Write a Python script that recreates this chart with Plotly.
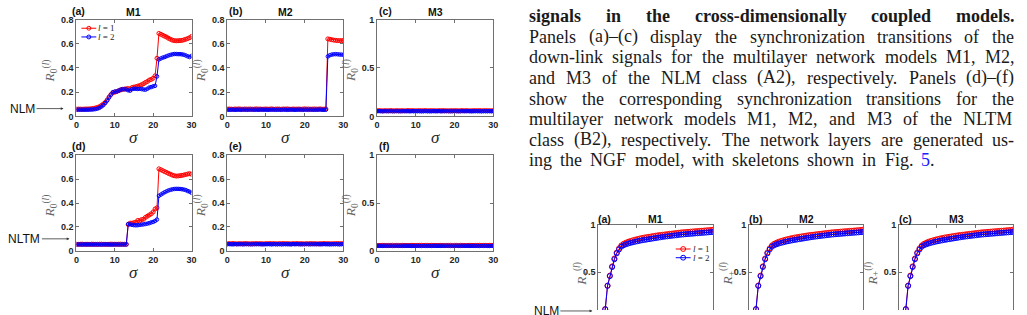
import plotly.graph_objects as go

W, H = 1027, 315

# ---------------- data: left figure, sigma = 0, 0.5, ..., 30 ----------------
a_l1 = [0.060, 0.060, 0.060, 0.059, 0.060, 0.061, 0.061, 0.062, 0.064, 0.066,
        0.070, 0.074, 0.080, 0.090, 0.102, 0.115, 0.135, 0.160, 0.180, 0.195,
        0.200, 0.205, 0.212, 0.218, 0.222, 0.225, 0.228, 0.230, 0.226, 0.238,
        0.242, 0.245, 0.250, 0.255, 0.262, 0.270, 0.280, 0.288, 0.300, 0.305,
        0.315, 0.335, 0.480, 0.685, 0.678, 0.670, 0.662, 0.655, 0.645, 0.637,
        0.630, 0.626, 0.624, 0.625, 0.626, 0.628, 0.632, 0.637, 0.643, 0.650,
        0.660]
a_l2 = [0.055, 0.055, 0.055, 0.055, 0.055, 0.055, 0.055, 0.056, 0.056, 0.058,
        0.060, 0.064, 0.070, 0.080, 0.092, 0.110, 0.130, 0.155, 0.180, 0.200,
        0.205, 0.205, 0.212, 0.220, 0.225, 0.225, 0.222, 0.215, 0.212, 0.225,
        0.228, 0.228, 0.226, 0.228, 0.225, 0.222, 0.220, 0.228, 0.238, 0.242,
        0.248, 0.252, 0.330, 0.470, 0.478, 0.485, 0.490, 0.497, 0.503, 0.508,
        0.512, 0.515, 0.515, 0.514, 0.514, 0.512, 0.509, 0.503, 0.496, 0.490,
        0.500]
b_l1 = [0.060, 0.061, 0.060, 0.059, 0.061, 0.060, 0.062, 0.060, 0.059, 0.061,
        0.060, 0.060, 0.061, 0.059, 0.060, 0.062, 0.060, 0.061, 0.059, 0.060,
        0.061, 0.060, 0.060, 0.062, 0.059, 0.060, 0.061, 0.060, 0.059, 0.061,
        0.060, 0.062, 0.060, 0.059, 0.061, 0.060, 0.060, 0.061, 0.059, 0.060,
        0.062, 0.060, 0.061, 0.059, 0.060, 0.061, 0.060, 0.060, 0.062, 0.059,
        0.060, 0.061, 0.640, 0.637, 0.633, 0.630, 0.628, 0.626, 0.626, 0.625,
        0.627]
b_l2 = [0.055, 0.054, 0.055, 0.056, 0.054, 0.055, 0.055, 0.054, 0.056, 0.055,
        0.054, 0.055, 0.055, 0.056, 0.054, 0.055, 0.054, 0.055, 0.056, 0.055,
        0.055, 0.054, 0.055, 0.055, 0.056, 0.054, 0.055, 0.055, 0.054, 0.056,
        0.055, 0.054, 0.055, 0.056, 0.055, 0.054, 0.055, 0.055, 0.056, 0.054,
        0.055, 0.055, 0.054, 0.056, 0.055, 0.054, 0.055, 0.055, 0.056, 0.055,
        0.054, 0.055, 0.495, 0.505, 0.510, 0.513, 0.514, 0.513, 0.511, 0.510,
        0.509]
c_l1 = [0.058, 0.059, 0.058, 0.057, 0.059, 0.058, 0.058, 0.060, 0.058, 0.057,
        0.059, 0.058, 0.058, 0.059, 0.057, 0.058, 0.060, 0.058, 0.059, 0.058,
        0.057, 0.058, 0.059, 0.058, 0.058, 0.060, 0.057, 0.058, 0.059, 0.058,
        0.058, 0.057, 0.059, 0.058, 0.060, 0.058, 0.058, 0.057, 0.059, 0.058,
        0.058, 0.059, 0.057, 0.058, 0.060, 0.058, 0.059, 0.058, 0.057, 0.058,
        0.059, 0.058, 0.058, 0.060, 0.057, 0.058, 0.059, 0.058, 0.058, 0.057,
        0.059]
c_l2 = [0.053, 0.054, 0.053, 0.052, 0.054, 0.053, 0.053, 0.054, 0.052, 0.053,
        0.054, 0.053, 0.052, 0.053, 0.054, 0.053, 0.053, 0.052, 0.054, 0.053,
        0.053, 0.054, 0.053, 0.052, 0.053, 0.054, 0.053, 0.053, 0.052, 0.054,
        0.053, 0.053, 0.054, 0.052, 0.053, 0.053, 0.054, 0.053, 0.052, 0.053,
        0.054, 0.053, 0.053, 0.052, 0.054, 0.053, 0.053, 0.054, 0.053, 0.052,
        0.053, 0.054, 0.053, 0.053, 0.052, 0.054, 0.053, 0.053, 0.054, 0.053,
        0.053]
d_l1 = [0.056, 0.055, 0.056, 0.057, 0.055, 0.056, 0.056, 0.055, 0.057, 0.056,
        0.055, 0.056, 0.056, 0.057, 0.055, 0.056, 0.055, 0.056, 0.057, 0.056,
        0.056, 0.055, 0.056, 0.057, 0.055, 0.056, 0.056, 0.220, 0.232, 0.232,
        0.236, 0.240, 0.255, 0.250, 0.262, 0.265, 0.280, 0.290, 0.300, 0.310,
        0.325, 0.350, 0.360, 0.685, 0.678, 0.670, 0.662, 0.655, 0.647, 0.640,
        0.633, 0.628, 0.625, 0.626, 0.628, 0.631, 0.634, 0.638, 0.642, 0.645,
        0.640]
d_l2 = [0.054, 0.055, 0.054, 0.053, 0.055, 0.054, 0.054, 0.055, 0.053, 0.054,
        0.055, 0.054, 0.054, 0.053, 0.055, 0.054, 0.055, 0.054, 0.053, 0.054,
        0.054, 0.055, 0.054, 0.053, 0.055, 0.054, 0.054, 0.225, 0.222, 0.218,
        0.215, 0.214, 0.215, 0.218, 0.220, 0.222, 0.225, 0.228, 0.232, 0.238,
        0.242, 0.250, 0.262, 0.460, 0.470, 0.480, 0.490, 0.498, 0.505, 0.510,
        0.514, 0.517, 0.518, 0.518, 0.517, 0.515, 0.512, 0.508, 0.500, 0.494,
        0.485]
e_l1 = [0.060, 0.061, 0.060, 0.062, 0.060, 0.059, 0.061, 0.060, 0.060, 0.062,
        0.061, 0.060, 0.059, 0.061, 0.060, 0.062, 0.060, 0.061, 0.060, 0.059,
        0.061, 0.060, 0.062, 0.060, 0.061, 0.060, 0.059, 0.061, 0.060, 0.062,
        0.060, 0.061, 0.060, 0.059, 0.061, 0.060, 0.062, 0.060, 0.061, 0.060,
        0.059, 0.061, 0.060, 0.062, 0.060, 0.061, 0.060, 0.059, 0.061, 0.060,
        0.062, 0.060, 0.061, 0.060, 0.059, 0.061, 0.060, 0.062, 0.060, 0.061,
        0.060]
e_l2 = [0.056, 0.057, 0.056, 0.055, 0.057, 0.056, 0.056, 0.057, 0.055, 0.056,
        0.057, 0.056, 0.056, 0.055, 0.057, 0.056, 0.057, 0.056, 0.055, 0.056,
        0.056, 0.057, 0.056, 0.055, 0.057, 0.056, 0.056, 0.057, 0.055, 0.056,
        0.057, 0.056, 0.056, 0.055, 0.057, 0.056, 0.057, 0.056, 0.055, 0.056,
        0.056, 0.057, 0.056, 0.055, 0.057, 0.056, 0.056, 0.057, 0.055, 0.056,
        0.057, 0.056, 0.056, 0.055, 0.057, 0.056, 0.057, 0.056, 0.055, 0.056,
        0.057]
f_l1 = [0.058, 0.057, 0.058, 0.059, 0.058, 0.057, 0.058, 0.058, 0.059, 0.057,
        0.058, 0.058, 0.057, 0.059, 0.058, 0.058, 0.057, 0.058, 0.059, 0.058,
        0.057, 0.058, 0.058, 0.059, 0.057, 0.058, 0.058, 0.057, 0.059, 0.058,
        0.058, 0.057, 0.058, 0.059, 0.058, 0.057, 0.058, 0.058, 0.059, 0.057,
        0.058, 0.058, 0.057, 0.059, 0.058, 0.058, 0.057, 0.058, 0.059, 0.058,
        0.057, 0.058, 0.058, 0.059, 0.057, 0.058, 0.058, 0.057, 0.059, 0.058,
        0.058]
f_l2 = [0.053, 0.054, 0.053, 0.052, 0.054, 0.053, 0.053, 0.054, 0.052, 0.053,
        0.054, 0.053, 0.053, 0.052, 0.054, 0.053, 0.054, 0.053, 0.052, 0.053,
        0.053, 0.054, 0.053, 0.052, 0.054, 0.053, 0.053, 0.054, 0.052, 0.053,
        0.054, 0.053, 0.053, 0.052, 0.054, 0.053, 0.054, 0.053, 0.052, 0.053,
        0.053, 0.054, 0.053, 0.052, 0.054, 0.053, 0.053, 0.054, 0.052, 0.053,
        0.054, 0.053, 0.053, 0.052, 0.054, 0.053, 0.054, 0.053, 0.052, 0.053,
        0.054]

# ---------------- data: lower-right figure, sigma = 0, 0.6, ..., 30 ----------------
rp_l1 = [0.000, 0.005, 0.030, 0.112, 0.360, 0.465, 0.562, 0.645, 0.708, 0.752,
         0.783, 0.800, 0.812, 0.822, 0.830, 0.837, 0.844, 0.850, 0.856, 0.861,
         0.866, 0.870, 0.874, 0.878, 0.882, 0.886, 0.890, 0.893, 0.896, 0.899,
         0.902, 0.905, 0.908, 0.911, 0.914, 0.917, 0.920, 0.922, 0.924, 0.926,
         0.928, 0.930, 0.932, 0.934, 0.936, 0.938, 0.940, 0.942, 0.944, 0.946,
         0.950]
rp_l2 = [0.000, 0.005, 0.030, 0.110, 0.356, 0.459, 0.555, 0.637, 0.699, 0.740,
         0.770, 0.785, 0.795, 0.803, 0.810, 0.816, 0.822, 0.827, 0.832, 0.837,
         0.841, 0.845, 0.849, 0.853, 0.857, 0.861, 0.865, 0.869, 0.873, 0.876,
         0.879, 0.882, 0.885, 0.888, 0.891, 0.894, 0.897, 0.899, 0.901, 0.903,
         0.905, 0.907, 0.909, 0.911, 0.913, 0.915, 0.917, 0.919, 0.921, 0.923,
         0.925]

xtick_vals = [0, 10, 20, 30]
xtick_text = ["0", "10", "20", "30"]
ytick08_vals = [0, 0.2, 0.4, 0.6, 0.8]
ytick08_text = ["0", "0.2", "0.4", "0.6", "0.8"]
ytick1_vals = [0, 0.5, 1]
ytick1_text = ["0", "0.5", "1"]

model_titles = ["M1", "M2", "M3"]
left_letters = ["(a)", "(b)", "(c)", "(d)", "(e)", "(f)"]
right_letters = ["(a)", "(b)", "(c)"]
legend_labels = ["<i>l</i> = 1", "<i>l</i> = 2"]

caption_lines = [
    "signals in the cross-dimensionally coupled models.",
    "Panels (a)–(c) display the synchronization transitions of the",
    "down-link signals for the multilayer network models M1, M2,",
    "and M3 of the NLM class (A2), respectively. Panels (d)–(f)",
    "show the corresponding synchronization transitions for the",
    "multilayer network models M1, M2, and M3 of the NLTM",
    "class (B2), respectively. The network layers are generated us-",
    "ing the NGF model, with skeletons shown in Fig. 5.",
]

RED = "#ff0000"
BLUE = "#0000ff"
FRAME = "#707070"
INK = "#262626"


def X(px):
    return px / W


def Y(py):
    return 1 - py / H


fig = go.Figure()
layout = dict(width=W, height=H, margin=dict(l=0, r=0, t=0, b=0),
              paper_bgcolor="white", plot_bgcolor="white", showlegend=False,
              font=dict(family="Liberation Sans", color=INK))

# panel geometry (pixels)
left_cols = [(74, 190), (226, 343), (377, 494)]
left_rows = [(15, 115), (155, 254)]
right_cols = [(600, 716), (752, 867), (903, 1018)]
right_top = 227

left_data = [(a_l1, a_l2), (b_l1, b_l2), (c_l1, c_l2),
             (d_l1, d_l2), (e_l1, e_l2), (f_l1, f_l2)]

tickfont = dict(family="Liberation Sans", size=9, color=INK, weight="bold")
common = dict(showgrid=False, zeroline=False, showline=True, linecolor=FRAME,
              linewidth=1, ticks="inside", ticklen=3, tickcolor=FRAME,
              tickwidth=1, tickfont=tickfont)

annotations = []
shapes = []

idx = 0
for r, (ytop, ybot) in enumerate(left_rows):
    for c, (xl, xr) in enumerate(left_cols):
        idx += 1
        xn = "xaxis" if idx == 1 else f"xaxis{idx}"
        yn = "yaxis" if idx == 1 else f"yaxis{idx}"
        xa = "x" if idx == 1 else f"x{idx}"
        ya = "y" if idx == 1 else f"y{idx}"
        if c == 2:
            yv, yt, yr = ytick1_vals, ytick1_text, [0, 1]
        else:
            yv, yt, yr = ytick08_vals, ytick08_text, [0, 0.8]
        layout[xn] = dict(common, domain=[X(xl), X(xr)], range=[0, 30],
                          tickvals=xtick_vals, ticktext=xtick_text,
                          mirror="allticks", anchor=ya)
        layout[yn] = dict(common, domain=[Y(ybot), Y(ytop)], range=yr,
                          tickvals=yv, ticktext=yt, mirror="allticks", anchor=xa)
        l1, l2 = left_data[idx - 1]
        fig.add_trace(go.Scatter(
            x=[0.5 * i for i in range(len(l1))], y=l1, xaxis=xa, yaxis=ya,
            mode="lines+markers", line=dict(color=RED, width=1),
            marker=dict(symbol="circle-open", size=4, color=RED, line=dict(width=1))))
        fig.add_trace(go.Scatter(
            x=[0.5 * i for i in range(len(l2))], y=l2, xaxis=xa, yaxis=ya,
            mode="lines+markers", line=dict(color=BLUE, width=1),
            marker=dict(symbol="circle-open", size=3.5, color=BLUE, line=dict(width=1))))
        # panel letter
        lx = xl - 6 if c == 0 else xl
        annotations.append(dict(text="<b>" + left_letters[idx - 1] + "</b>",
                                x=X(lx), y=Y(ytop - 9), xref="paper", yref="paper",
                                xanchor="left", yanchor="middle", showarrow=False,
                                font=dict(size=10.5, color="#111")))
        if r == 0:
            annotations.append(dict(text="<b>" + model_titles[c] + "</b>",
                                    x=X((xl + xr) / 2), y=Y(7), xref="paper", yref="paper",
                                    xanchor="center", yanchor="middle", showarrow=False,
                                    font=dict(size=10.5, color="#111")))
        # sigma label
        annotations.append(dict(text="<i>σ</i>", x=X((xl + xr) / 2), y=Y(ybot + 22),
                                xref="paper", yref="paper", xanchor="center",
                                yanchor="middle", showarrow=False,
                                font=dict(family="Liberation Serif", size=17, color=INK)))
        # y label
        annotations.append(dict(text="<i>R</i><sub>0</sub><sup>(<i>l</i>)</sup>",
                                x=X(xl - 26), y=Y((ytop + ybot) / 2 + 3),
                                xref="paper", yref="paper", xanchor="center",
                                yanchor="middle", textangle=-90, showarrow=False,
                                font=dict(family="Liberation Serif", size=13.5, color="#666666")))

# lower-right figure
for c, (xl, xr) in enumerate(right_cols):
    idx += 1
    xn, yn = f"xaxis{idx}", f"yaxis{idx}"
    xa, ya = f"x{idx}", f"y{idx}"
    layout[xn] = dict(common, domain=[X(xl), X(xr)], range=[0, 30],
                      tickvals=xtick_vals, showticklabels=False, side="top",
                      mirror=False, anchor=ya)
    layout[yn] = dict(common, domain=[0, Y(right_top)], range=[0.102, 1.0005],
                      tickvals=ytick1_vals, ticktext=ytick1_text,
                      mirror="allticks", anchor=xa)
    fig.add_trace(go.Scatter(
        x=[0.6 * i for i in range(len(rp_l1))], y=rp_l1, xaxis=xa, yaxis=ya,
        mode="lines+markers", line=dict(color=RED, width=1),
        marker=dict(symbol="circle-open", size=5, color=RED, line=dict(width=1))))
    fig.add_trace(go.Scatter(
        x=[0.6 * i for i in range(len(rp_l2))], y=rp_l2, xaxis=xa, yaxis=ya,
        mode="lines+markers", line=dict(color=BLUE, width=1),
        marker=dict(symbol="circle-open", size=5, color=BLUE, line=dict(width=1))))
    annotations.append(dict(text="<b>" + right_letters[c] + "</b>",
                            x=X(xl - 2), y=Y(right_top - 6), xref="paper", yref="paper",
                            xanchor="left", yanchor="middle", showarrow=False,
                            font=dict(size=10.5, color="#111")))
    annotations.append(dict(text="<b>" + model_titles[c] + "</b>",
                            x=X((xl + xr) / 2), y=Y(right_top - 6), xref="paper", yref="paper",
                            xanchor="center", yanchor="middle", showarrow=False,
                            font=dict(size=10.5, color="#111")))
    annotations.append(dict(text="<i>R</i><sub>+</sub><sup>(<i>l</i>)</sup>",
                            x=X(xl - 17 - 5 * c), y=Y(277),
                            xref="paper", yref="paper", xanchor="center",
                            yanchor="middle", textangle=-90, showarrow=False,
                            font=dict(family="Liberation Serif", size=13.5, color="#666666")))


# legends (keys drawn as small shapes)
def legend_block(x0, x1, ys, msize):
    for (yy, col, lab) in zip(ys, [RED, BLUE], legend_labels):
        shapes.append(dict(type="line", xref="paper", yref="paper",
                           x0=X(x0), x1=X(x1), y0=Y(yy), y1=Y(yy),
                           line=dict(color=col, width=1)))
        cx = (x0 + x1) / 2
        rr = msize / 2
        shapes.append(dict(type="circle", xref="paper", yref="paper",
                           x0=X(cx - rr), x1=X(cx + rr), y0=Y(yy + rr), y1=Y(yy - rr),
                           line=dict(color=col, width=1)))
        annotations.append(dict(text=lab, x=X(x1 + 2), y=Y(yy), xref="paper",
                                yref="paper", xanchor="left", yanchor="middle",
                                showarrow=False, borderpad=0, borderwidth=0,
                                font=dict(family="Liberation Serif", size=9, color=INK)))


legend_block(79, 94, [24, 33], 4)
legend_block(678, 693, [252, 261], 5)

# row labels with arrows
annotations.append(dict(text="NLM", x=X(61), y=Y(107), xref="paper", yref="paper",
                        ax=-41, ay=0, showarrow=True, arrowhead=2, arrowsize=0.7,
                        arrowwidth=0.8, arrowcolor="#333", font=dict(size=12, color="#111")))
annotations.append(dict(text="NLTM", x=X(67), y=Y(241.5), xref="paper", yref="paper",
                        ax=-45, ay=0, showarrow=True, arrowhead=2, arrowsize=0.7,
                        arrowwidth=0.8, arrowcolor="#333", font=dict(size=12, color="#111")))
annotations.append(dict(text="NLM", x=X(594), y=Y(316), xref="paper", yref="paper",
                        ax=-46, ay=0, showarrow=True, arrowhead=2, arrowsize=0.7,
                        arrowwidth=0.8, arrowcolor="#333", font=dict(size=12, color="#111")))

# caption text, justified word by word
TIMES_R = {' ': 250, 'a': 444, 'b': 500, 'c': 444, 'd': 500, 'e': 444, 'f': 333, 'g': 500,
           'h': 500, 'i': 278, 'j': 278, 'k': 500, 'l': 278, 'm': 778, 'n': 500, 'o': 500,
           'p': 500, 'q': 500, 'r': 333, 's': 389, 't': 278, 'u': 500, 'v': 500, 'w': 722,
           'x': 500, 'y': 500, 'z': 444, 'A': 722, 'B': 667, 'F': 556, 'G': 722, 'L': 611,
           'M': 889, 'N': 722, 'P': 556, 'T': 611, '1': 500, '2': 500, '3': 500, '5': 500,
           '(': 333, ')': 333, '–': 500, ',': 250, '.': 250, '-': 333}
TIMES_B = {' ': 250, 'a': 500, 'c': 444, 'd': 556, 'e': 444, 'g': 500, 'h': 556, 'i': 278,
           'l': 278, 'm': 833, 'n': 556, 'o': 500, 'p': 556, 'r': 444, 's': 389, 't': 333,
           'u': 556, 'y': 500, '-': 333, '.': 250}
FS = 18
TXT_L, TXT_R = 530, 1019


def wwidth(word, table):
    return sum(table.get(ch, 500) for ch in word) / 1000.0 * FS


for k, line in enumerate(caption_lines):
    bold = (k == 0)
    table = TIMES_B if bold else TIMES_R
    words = line.split(" ")
    widths = [wwidth(w, table) for w in words]
    if k == len(caption_lines) - 1:
        gap = 8.5
    else:
        gap = (TXT_R - TXT_L - sum(widths)) / (len(words) - 1)
    base = 17.5 + 21.3 * k
    xpos = TXT_L
    for w, wd in zip(words, widths):
        txt = w
        if w == "5.":
            txt = '<span style="color:#2020ff">5</span>.'
        if bold:
            txt = "<b>" + txt + "</b>"
        annotations.append(dict(text=txt, x=X(xpos), y=Y(base - 0.3375 * FS),
                                xref="paper", yref="paper", xanchor="left",
                                yanchor="middle", showarrow=False, borderpad=0,
                                borderwidth=0,
                                font=dict(family="Liberation Serif", size=FS, color="#1a1a1a")))
        xpos += wd + gap

layout["annotations"] = annotations
layout["shapes"] = shapes
fig.update_layout(**layout)
fig.write_html("out.html")
